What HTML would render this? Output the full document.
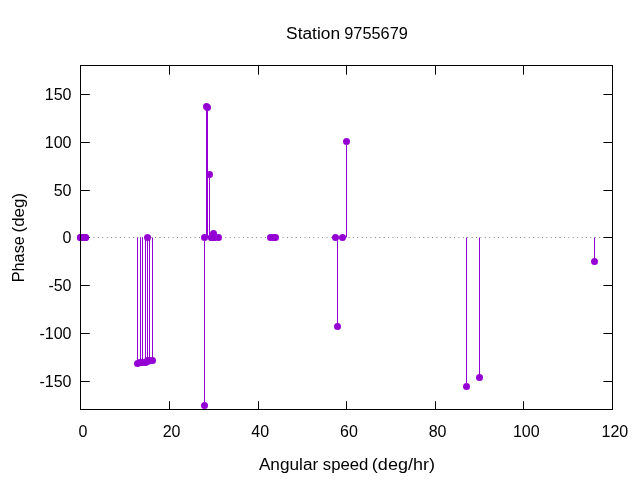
<!DOCTYPE html><html><head><meta charset="utf-8"><style>html,body{margin:0;padding:0;background:#fff;width:640px;height:480px;overflow:hidden}svg{display:block;will-change:transform}text{font-family:"Liberation Sans",sans-serif;font-size:16px;fill:#000}</style></head><body>
<svg width="640" height="480" viewBox="0 0 640 480">
<rect width="640" height="480" fill="#fff"/>
<line x1="80.777" y1="237.5" x2="612.5" y2="237.5" stroke="#808080" stroke-width="1" stroke-dasharray="1 3.397" stroke-dashoffset="0.5"/>
<path d="M80.5 381.5H89.8M612.5 381.5H603.4M80.5 333.5H89.8M612.5 333.5H603.4M80.5 285.5H89.8M612.5 285.5H603.4M80.5 237.5H89.8M612.5 237.5H603.4M80.5 190.5H89.8M612.5 190.5H603.4M80.5 142.5H89.8M612.5 142.5H603.4M80.5 94.5H89.8M612.5 94.5H603.4M169.5 409.5V401.2M169.5 65.5V74.7M258.5 409.5V401.2M258.5 65.5V74.7M346.5 409.5V401.2M346.5 65.5V74.7M435.5 409.5V401.2M435.5 65.5V74.7M523.5 409.5V401.2M523.5 65.5V74.7" stroke="#000" stroke-width="1.0" fill="none"/>
<line x1="137.5" y1="237.5" x2="137.5" y2="363.5" stroke="#9400d3" stroke-width="1.0"/>
<line x1="140.5" y1="237.5" x2="140.5" y2="362.5" stroke="#9400d3" stroke-width="1.0"/>
<line x1="140.5" y1="237.5" x2="140.5" y2="362.5" stroke="#9400d3" stroke-width="1.0"/>
<line x1="142.5" y1="237.5" x2="142.5" y2="362.5" stroke="#9400d3" stroke-width="1.0"/>
<line x1="145.5" y1="237.5" x2="145.5" y2="362.5" stroke="#9400d3" stroke-width="1.0"/>
<line x1="147.5" y1="237.5" x2="147.5" y2="361.5" stroke="#9400d3" stroke-width="1.0"/>
<line x1="147.5" y1="237.5" x2="147.5" y2="360.5" stroke="#9400d3" stroke-width="1.0"/>
<line x1="149.5" y1="237.5" x2="149.5" y2="360.5" stroke="#9400d3" stroke-width="1.0"/>
<line x1="152.5" y1="237.5" x2="152.5" y2="360.5" stroke="#9400d3" stroke-width="1.0"/>
<line x1="204.5" y1="237.5" x2="204.5" y2="405.5" stroke="#9400d3" stroke-width="1.0"/>
<line x1="206.5" y1="237.5" x2="206.5" y2="106.5" stroke="#9400d3" stroke-width="1.0"/>
<line x1="207.5" y1="237.5" x2="207.5" y2="107.5" stroke="#9400d3" stroke-width="1.0"/>
<line x1="209.5" y1="237.5" x2="209.5" y2="174.5" stroke="#9400d3" stroke-width="1.0"/>
<line x1="213.5" y1="237.5" x2="213.5" y2="233.5" stroke="#9400d3" stroke-width="1.0"/>
<line x1="337.5" y1="237.5" x2="337.5" y2="326.5" stroke="#9400d3" stroke-width="1.0"/>
<line x1="346.5" y1="237.5" x2="346.5" y2="141.5" stroke="#9400d3" stroke-width="1.0"/>
<line x1="466.5" y1="237.5" x2="466.5" y2="386.5" stroke="#9400d3" stroke-width="1.0"/>
<line x1="479.5" y1="237.5" x2="479.5" y2="377.5" stroke="#9400d3" stroke-width="1.0"/>
<line x1="594.5" y1="237.5" x2="594.5" y2="261.5" stroke="#9400d3" stroke-width="1.0"/>
<circle cx="80.5" cy="237.5" r="3.5" fill="#9400d3"/>
<circle cx="80.5" cy="237.5" r="3.5" fill="#9400d3"/>
<circle cx="81.5" cy="237.5" r="3.5" fill="#9400d3"/>
<circle cx="83.5" cy="237.5" r="3.5" fill="#9400d3"/>
<circle cx="85.5" cy="237.5" r="3.5" fill="#9400d3"/>
<circle cx="85.5" cy="237.5" r="3.5" fill="#9400d3"/>
<circle cx="137.5" cy="363.5" r="3.5" fill="#9400d3"/>
<circle cx="140.5" cy="362.5" r="3.5" fill="#9400d3"/>
<circle cx="140.5" cy="362.5" r="3.5" fill="#9400d3"/>
<circle cx="142.5" cy="362.5" r="3.5" fill="#9400d3"/>
<circle cx="145.5" cy="362.5" r="3.5" fill="#9400d3"/>
<circle cx="147.5" cy="361.5" r="3.5" fill="#9400d3"/>
<circle cx="147.5" cy="237.5" r="3.5" fill="#9400d3"/>
<circle cx="147.5" cy="360.5" r="3.5" fill="#9400d3"/>
<circle cx="149.5" cy="360.5" r="3.5" fill="#9400d3"/>
<circle cx="152.5" cy="360.5" r="3.5" fill="#9400d3"/>
<circle cx="204.5" cy="405.5" r="3.5" fill="#9400d3"/>
<circle cx="204.5" cy="237.5" r="3.5" fill="#9400d3"/>
<circle cx="206.5" cy="106.5" r="3.5" fill="#9400d3"/>
<circle cx="207.5" cy="107.5" r="3.5" fill="#9400d3"/>
<circle cx="209.5" cy="174.5" r="3.5" fill="#9400d3"/>
<circle cx="211.5" cy="237.5" r="3.5" fill="#9400d3"/>
<circle cx="211.5" cy="237.5" r="3.5" fill="#9400d3"/>
<circle cx="213.5" cy="237.5" r="3.5" fill="#9400d3"/>
<circle cx="213.5" cy="233.5" r="3.5" fill="#9400d3"/>
<circle cx="213.5" cy="237.5" r="3.5" fill="#9400d3"/>
<circle cx="214.5" cy="237.5" r="3.5" fill="#9400d3"/>
<circle cx="218.5" cy="237.5" r="3.5" fill="#9400d3"/>
<circle cx="270.5" cy="237.5" r="3.5" fill="#9400d3"/>
<circle cx="273.5" cy="237.5" r="3.5" fill="#9400d3"/>
<circle cx="275.5" cy="237.5" r="3.5" fill="#9400d3"/>
<circle cx="335.5" cy="237.5" r="3.5" fill="#9400d3"/>
<circle cx="337.5" cy="326.5" r="3.5" fill="#9400d3"/>
<circle cx="342.5" cy="237.5" r="3.5" fill="#9400d3"/>
<circle cx="346.5" cy="141.5" r="3.5" fill="#9400d3"/>
<circle cx="466.5" cy="386.5" r="3.5" fill="#9400d3"/>
<circle cx="479.5" cy="377.5" r="3.5" fill="#9400d3"/>
<circle cx="594.5" cy="261.5" r="3.5" fill="#9400d3"/>
<rect x="80.5" y="65.5" width="532.0" height="344.0" stroke="#000" stroke-width="1.0" fill="none"/>
<text x="71.5" y="387.05" text-anchor="end">-150</text>
<text x="71.5" y="339.05" text-anchor="end">-100</text>
<text x="71.5" y="291.05" text-anchor="end">-50</text>
<text x="71.5" y="243.05" text-anchor="end">0</text>
<text x="71.5" y="196.05" text-anchor="end">50</text>
<text x="71.5" y="148.05" text-anchor="end">100</text>
<text x="71.5" y="100.05" text-anchor="end">150</text>
<text x="82.90" y="437.1" text-anchor="middle">0</text>
<text x="171.57" y="437.1" text-anchor="middle">20</text>
<text x="260.23" y="437.1" text-anchor="middle">40</text>
<text x="348.90" y="437.1" text-anchor="middle">60</text>
<text x="437.57" y="437.1" text-anchor="middle">80</text>
<text x="526.23" y="437.1" text-anchor="middle">100</text>
<text x="614.90" y="437.1" text-anchor="middle">120</text>
<text x="286.09" y="39.2" textLength="53.96" lengthAdjust="spacingAndGlyphs">Station</text>
<text x="344.29" y="39.2" textLength="63.58" lengthAdjust="spacingAndGlyphs">9755679</text>
<text x="258.90" y="469.8" textLength="59.30" lengthAdjust="spacingAndGlyphs">Angular</text>
<text x="322.78" y="469.8" textLength="45.57" lengthAdjust="spacingAndGlyphs">speed</text>
<text x="371.88" y="469.8" textLength="63.04" lengthAdjust="spacingAndGlyphs">(deg/hr)</text>
<text transform="translate(23.9 282.30) rotate(-90)" x="0" y="0" textLength="46.16" lengthAdjust="spacingAndGlyphs">Phase</text>
<text transform="translate(23.9 232.46) rotate(-90)" x="0" y="0" textLength="39.60" lengthAdjust="spacingAndGlyphs">(deg)</text>
</svg></body></html>
